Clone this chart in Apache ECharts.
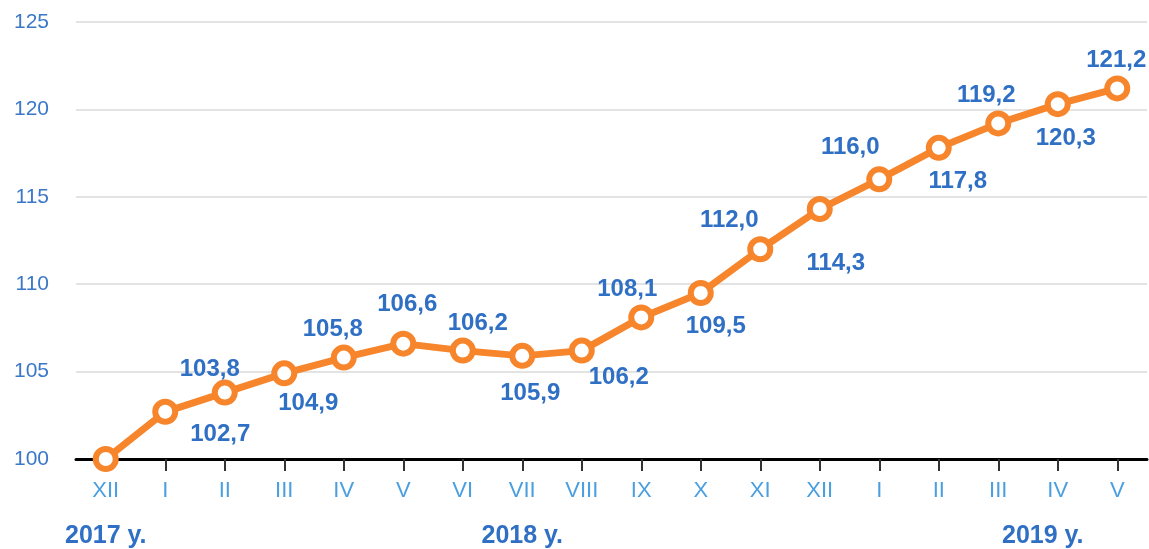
<!DOCTYPE html>
<html>
<head>
<meta charset="utf-8">
<style>
  html, body { margin: 0; padding: 0; background: #fff; }
  #chart { width: 1149px; height: 549px; }
</style>
<script src="https://cdn.jsdelivr.net/npm/echarts@6/dist/echarts.min.js"></script>
</head>
<body>
<div id="chart"></div>
<script>
// месяцы
var months = ['XII', 'I', 'II', 'III', 'IV', 'V', 'VI', 'VII', 'VIII', 'IX', 'X', 'XI', 'XII', 'I', 'II', 'III', 'IV', 'V'];
var indexValues = [100, 102.7, 103.8, 104.9, 105.8, 106.6, 106.2, 105.9, 106.2, 108.1, 109.5, 112.0, 114.3, 116.0, 117.8, 119.2, 120.3, 121.2];
var yearLabels = { 0: '2017 y.', 7: '2018 y.', 16: '2019 y.' };
var yTicks = [100, 105, 110, 115, 120, 125];

// label shift from the point, px (null = no label)
var labelShift = [null, [55, 23], [-15, -23], [24, 30], [-11, -28], [4, -39], [15, -27], [8, 38], [37, 27],
  [-14, -28], [15, 33], [-31, -29], [16, 54], [-29, -32], [19, 34], [-12, -28], [8, 34], [-1, -28]];

var seriesData = indexValues.map(function (v, i) {
  var s = labelShift[i];
  return {
    value: v,
    label: { show: !!s, position: 'inside', offset: s || [0, 0] }
  };
});

var chart = echarts.init(document.getElementById('chart'));
chart.setOption({
  animation: false,
  textStyle: { fontFamily: 'Arial, "Liberation Sans", sans-serif' },
  grid: { left: 76, right: 2, top: 22, bottom: 90 },
  xAxis: [{
    type: 'category',
    data: months,
    boundaryGap: true,
    axisLine: { lineStyle: { color: '#000', width: 3 } },
    axisTick: { show: true, alignWithLabel: true, interval: 0, length: 12, lineStyle: { color: '#333', width: 2 } },
    axisLabel: { color: '#4a9fe0', fontSize: 22, margin: 21, interval: 0 },
    z: 3
  }, {
    type: 'category',
    data: months,
    position: 'bottom',
    offset: 57,
    boundaryGap: true,
    axisLine: { show: false },
    axisTick: { show: false },
    axisLabel: {
      interval: 0,
      color: '#2f6fc4',
      fontSize: 25,
      fontWeight: 'bold',
      formatter: function (val, idx) {
        if (!yearLabels[idx]) return '';
        return idx === 16 ? '{last|' + yearLabels[idx] + '}' : yearLabels[idx];
      },
      rich: {
        last: { color: '#2f6fc4', fontSize: 25, fontWeight: 'bold', padding: [0, 30, 0, 0] }
      }
    }
  }],
  yAxis: {
    type: 'value',
    min: yTicks[0],
    max: yTicks[yTicks.length - 1],
    interval: 5,
    axisLine: { show: false },
    axisTick: { show: false },
    axisLabel: { color: '#3b78c8', fontSize: 21, margin: 27 },
    splitLine: { lineStyle: { color: '#e3e3e3', width: 2 } }
  },
  series: [{
    type: 'line',
    data: seriesData,
    symbol: 'circle',
    symbolSize: 20,
    lineStyle: { color: '#f7852b', width: 7 },
    itemStyle: { color: '#fff', borderColor: '#f7852b', borderWidth: 6 },
    label: {
      color: '#2f6fc4',
      fontSize: 24,
      fontWeight: 'bold',
      formatter: function (p) { return p.value.toFixed(1).replace('.', ','); }
    },
    z: 5
  }]
});
</script>
</body>
</html>
